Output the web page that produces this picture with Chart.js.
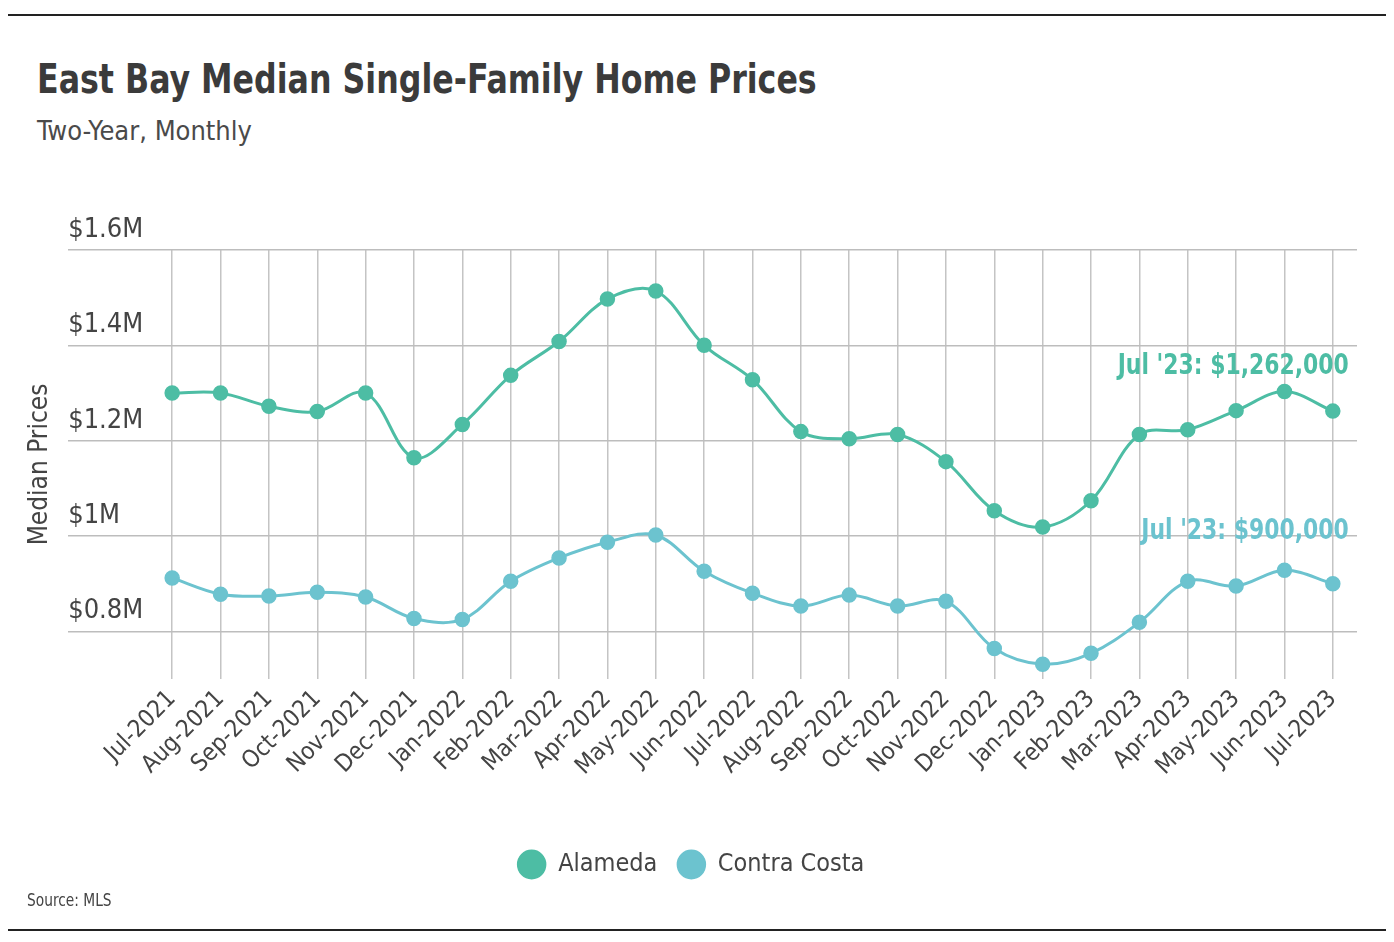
<!DOCTYPE html>
<html>
<head>
<meta charset="utf-8">
<script src="https://cdn.jsdelivr.net/npm/chart.js@4.4.0/dist/chart.umd.min.js"></script>
<style>
  html, body { margin: 0; padding: 0; background: #fff; }
  #wrap { position: relative; width: 1394px; height: 942px; overflow: hidden;
          font-family: "DejaVu Sans Condensed", Roboto, sans-serif; }
  .rule { position: absolute; left: 8px; width: 1378px; height: 2px; background: #222; }
  #title { position: absolute; left: 37px; top: 56px; font-size: 40px; font-weight: bold; color: #3b3b3b;
           transform: scaleX(0.88); transform-origin: left top; white-space: nowrap; }
  #sub { position: absolute; left: 37px; top: 115px; font-size: 27px; color: #4a4a4a; }
  #source { position: absolute; left: 27px; top: 890px; font-size: 17px; color: #444;
            transform: scaleX(0.9); transform-origin: left top; }
  #grafico { position: absolute; left: 0; top: 0; }
</style>
</head>
<body>
<div id="wrap">
  <div class="rule" style="top:14px"></div>
  <div id="title">East Bay Median Single-Family Home Prices</div>
  <div id="sub">Two-Year, Monthly</div>
  <canvas id="grafico" width="1394" height="942"></canvas>
  <div id="source">Source: MLS</div>
  <div class="rule" style="top:929px"></div>
</div>
<script>
const months = ["Jul-2021", "Aug-2021", "Sep-2021", "Oct-2021", "Nov-2021", "Dec-2021",
  "Jan-2022", "Feb-2022", "Mar-2022", "Apr-2022", "May-2022", "Jun-2022",
  "Jul-2022", "Aug-2022", "Sep-2022", "Oct-2022", "Nov-2022", "Dec-2022",
  "Jan-2023", "Feb-2023", "Mar-2023", "Apr-2023", "May-2023", "Jun-2023", "Jul-2023"];

const alameda = [1300000, 1300000, 1272000, 1261000, 1300000, 1164000,
  1234000, 1337000, 1408000, 1497000, 1514000, 1400000,
  1328000, 1219000, 1204000, 1213000, 1156000, 1053000,
  1019000, 1074000, 1213000, 1223000, 1263000, 1303000, 1262000];

const contraCosta = [912000, 878000, 874000, 882000, 872000, 827000,
  825000, 905000, 954000, 987000, 1002000, 926000,
  880000, 853000, 876000, 853000, 863000, 764000,
  731000, 754000, 819000, 905000, 895000, 928000, 900000];

const yTicks = [800000, 1000000, 1200000, 1400000, 1600000];
const yTickLabels = ["$0.8M", "$1M", "$1.2M", "$1.4M", "$1.6M"];
const endNotes = ["Jul '23: $1,262,000", "Jul '23: $900,000"];

const FONT = '"DejaVu Sans Condensed", Roboto, sans-serif';
const verde = '#4dbda4';
const azul = '#6cc3cf';

// etiquetas no fim das linhas (texto estreitado como no original)
const endLabels = {
  id: 'endLabels',
  afterDatasetsDraw(chart) {
    const ctx = chart.ctx;
    const shift = [-37, -45];
    chart.data.datasets.forEach((ds, i) => {
      const meta = chart.getDatasetMeta(i);
      const pt = meta.data[meta.data.length - 1];
      ctx.save();
      ctx.translate(pt.x + 16, pt.y + shift[i]);
      ctx.scale(0.84, 1);
      ctx.font = 'bold 29px ' + FONT;
      ctx.fillStyle = ds.borderColor;
      ctx.textAlign = 'right';
      ctx.textBaseline = 'alphabetic';
      ctx.fillText(endNotes[i], 0, 0);
      ctx.restore();
    });
  }
};

const data = {
  datasets: [{
    label: 'Alameda',
    data: alameda.map((v, i) => ({ x: i, y: v })),
    borderColor: verde,
    backgroundColor: verde,
    pointBackgroundColor: verde
  }, {
    label: 'Contra Costa',
    data: contraCosta.map((v, i) => ({ x: i, y: v })),
    borderColor: azul,
    backgroundColor: azul,
    pointBackgroundColor: azul
  }]
};

const config = {
  type: 'line',
  data: data,
  plugins: [endLabels],
  options: {
    responsive: false,
    animation: false,
    devicePixelRatio: 1,
    layout: { padding: { top: 250, left: 25, right: 37, bottom: 55 } },
    elements: {
      line: { borderWidth: 3, tension: 0.35 },
      point: { radius: 7, borderColor: '#fff', borderWidth: 1.5 }
    },
    plugins: {
      legend: {
        position: 'bottom',
        labels: {
          usePointStyle: true,
          pointStyle: 'circle',
          pointStyleWidth: 28,
          boxHeight: 20,
          padding: 20,
          color: '#444',
          font: { family: FONT, size: 25 }
        }
      },
      tooltip: { enabled: false }
    },
    scales: {
      x: {
        type: 'linear',
        min: -2.15,
        max: 24.5,
        afterBuildTicks: s => { s.ticks = months.map((m, i) => ({ value: i })); },
        afterFit: s => { s.height = 153; },
        border: { display: false },
        grid: { color: '#c4c4c4', lineWidth: 1.5, drawTicks: false },
        ticks: {
          autoSkip: false,
          maxRotation: 45,
          minRotation: 45,
          padding: 6,
          color: '#444',
          font: { family: FONT, size: 24 },
          callback: v => months[v]
        }
      },
      y: {
        min: 700000,
        max: 1600000,
        afterBuildTicks: s => { s.ticks = yTicks.map(v => ({ value: v })); },
        border: { display: false },
        grid: { color: '#bdbdbd', lineWidth: 1.5, drawTicks: false },
        title: {
          display: true,
          text: 'Median Prices',
          color: '#444',
          padding: { top: 0, bottom: 12 },
          font: { family: FONT, size: 26 }
        },
        ticks: {
          mirror: true,
          padding: 0,
          labelOffset: -20,
          color: '#444',
          font: { family: FONT, size: 27 },
          callback: v => yTickLabels[yTicks.indexOf(v)]
        }
      }
    }
  }
};

const grafico = new Chart(document.getElementById('grafico'), config);
</script>
</body>
</html>
